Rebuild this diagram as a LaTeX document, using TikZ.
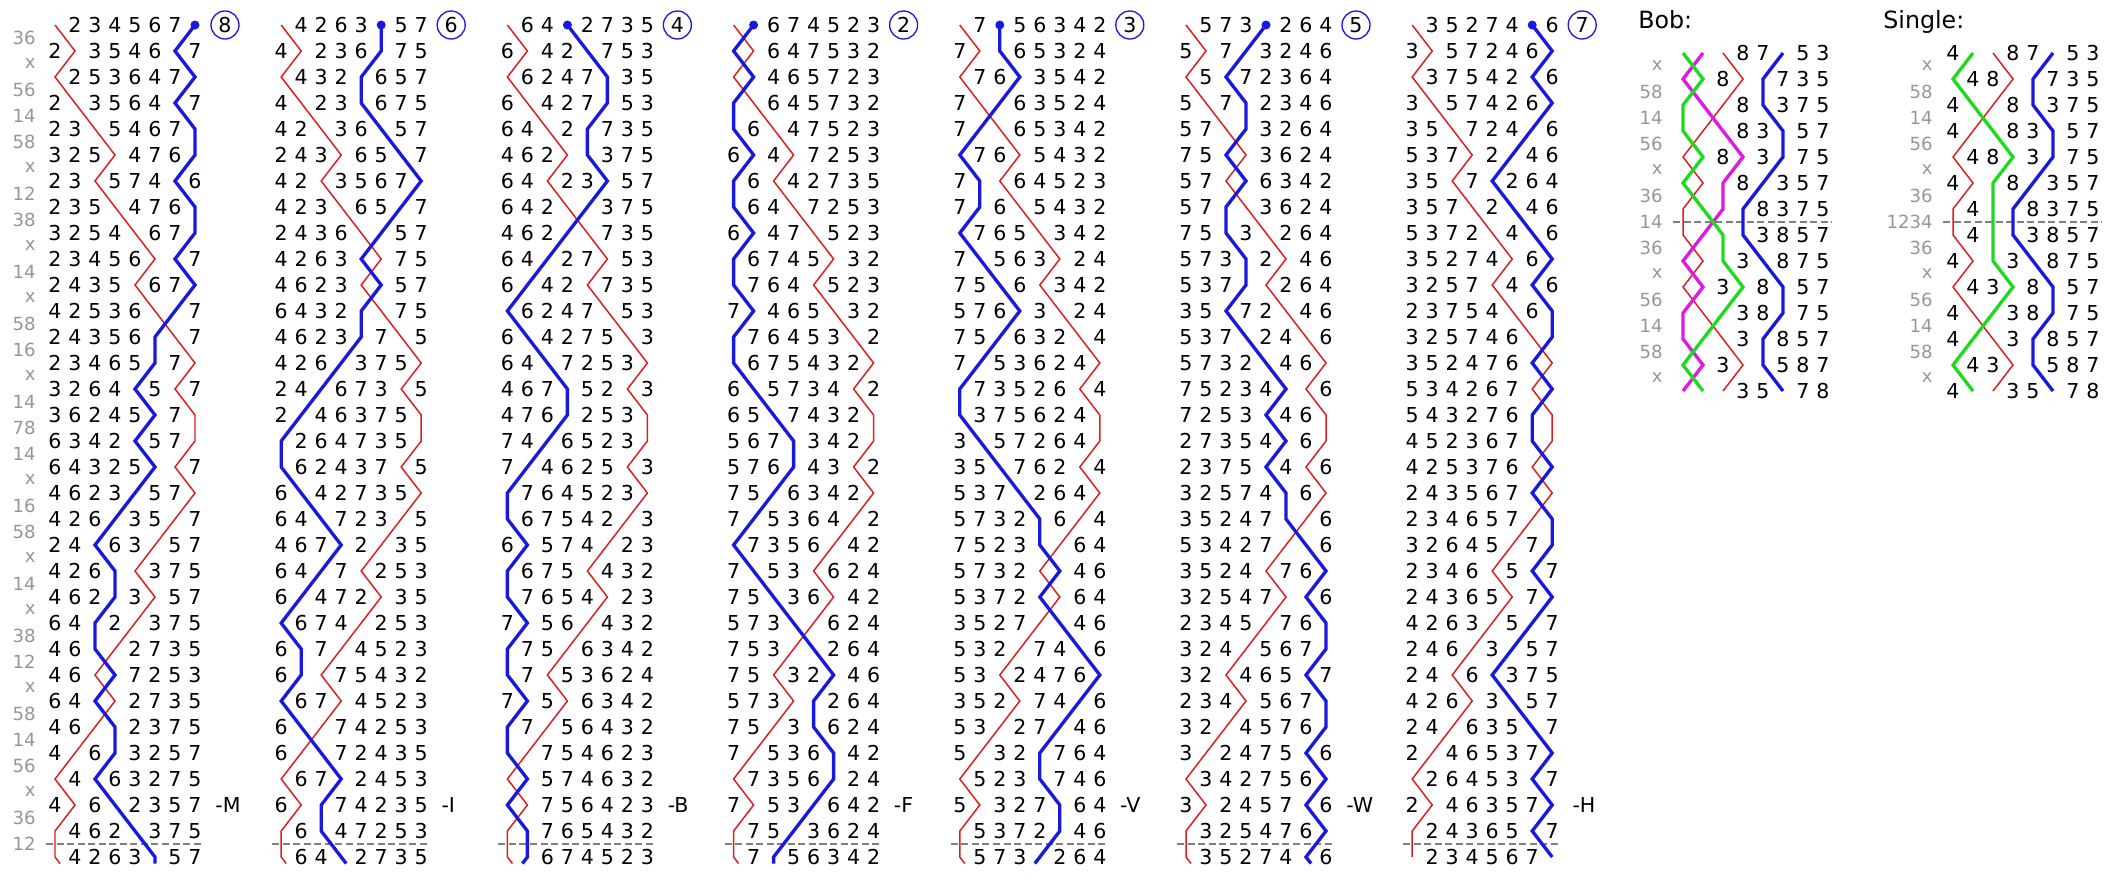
\documentclass[tikz,border=0pt]{standalone}
\usepackage{fontspec}
\setmainfont{DejaVu Sans}
\setsansfont{DejaVu Sans}
\usepackage{xcolor}
\usepackage{tikz}
\usetikzlibrary{calc}

\definecolor{trebred}{RGB}{222,30,30}
\definecolor{workblue}{RGB}{24,24,222}
\definecolor{bobgreen}{RGB}{30,218,30}
\definecolor{bobpink}{RGB}{222,26,222}
\definecolor{pngray}{RGB}{150,150,150}

% bell in place #9 of a row of eight
\def\bellat#1#2#3#4#5#6#7#8#9{\ifcase#9 \or#1\or#2\or#3\or#4\or#5\or#6\or#7\or#8\fi}
\def\pick#1{\expandafter\bellat\currow{#1}}
\def\permute#1#2#3#4#5#6#7#8{\xdef\currow{\pick#1\pick#2\pick#3\pick#4\pick#5\pick#6\pick#7\pick#8}}
\def\setpn#1#2{\expandafter\def\csname pn#1\endcsname{#2}}
\def\change#1{\edef\tmp{\csname pn#1\endcsname}\expandafter\permute\tmp}
\setpn{x}{21436587}
\setpn{12}{12436587}
\setpn{14}{13246587}
\setpn{16}{13254687}
\setpn{36}{21354687}
\setpn{38}{21354768}
\setpn{56}{21435687}
\setpn{58}{21435768}
\setpn{78}{21436578}
\setpn{1234}{12346587}

\begin{document}
\begin{tikzpicture}[x=0.02cm, y=-0.02cm, font=\sffamily,
    bell/.style={font=\fontsize{11.7}{14}\selectfont, inner sep=0pt},
    pn/.style={font=\fontsize{10.3}{12}\selectfont, text=pngray, anchor=east, inner sep=0pt},
    treble/.style={draw=trebred, line width=0.85pt},
    eighth/.style={draw=workblue, line width=1.9pt},
    greenline/.style={draw=bobgreen, line width=1.9pt},
    pinkline/.style={draw=bobpink, line width=1.9pt},
    leadend/.style={draw=gray, line width=0.6pt, dash pattern=on 4pt off 2pt},
    placebell/.style={draw=workblue, line width=0.75pt, circle, minimum size=0.56cm, inner sep=0pt, font=\fontsize{11.7}{14}\selectfont},
    title/.style={font=\fontsize{13.5}{16}\selectfont, anchor=base west, inner sep=0pt}]
  \useasboundingbox (0,0) rectangle (2114,880);
  \xdef\currow{12345678}
  \foreach \c/\call in {1/M,2/I,3/B,4/F,5/V,6/W,7/H} {
    \pgfmathsetmacro\xo{55+226.2*(\c-1)}
    \foreach \ch [count=\i] in {36,x,56,14,58,x,12,38,x,14,x,58,16,x,14,78,14,x,16,58,x,14,x,38,12,x,58,14,56,x,36,12,36,36} {
      \foreach \p in {1,...,8} {
        \edef\bl{\pick\p}
        \ifnum\bl=1 \coordinate (r\c-\i) at ({\xo+20*(\p-1)},{25+26*(\i-1)});
        \else\ifnum\bl=8 \coordinate (b\c-\i) at ({\xo+20*(\p-1)},{25+26*(\i-1)});
          \ifnum\i=1 \node[placebell] (start\c) at ({\xo+170},25) {\p}; \fi
        \else\ifnum\i<34 \node[bell] (d\c-\i-\p) at ({\xo+20*(\p-1)},{25+26*(\i-1)}) {\bl}; \fi
        \fi\fi
      }
      \change{\ch}
    }
    \ifnum\c<7
      \coordinate (rend\c) at ($(r\c-33)!0.25!(r\c-34)$);
      \coordinate (bend\c) at ($(b\c-33)!0.25!(b\c-34)$);
    \else
      \coordinate (rend\c) at (r\c-33);
      \coordinate (bend\c) at (b\c-33);
    \fi
    \draw[leadend] ({\xo-9},844) -- ({\xo+149},844);
    \draw[treble] (r\c-1) \foreach \i in {2,...,33} {-- (r\c-\i)} -- (rend\c);
    \draw[eighth] (b\c-1) \foreach \i in {2,...,33} {-- (b\c-\i)} -- (bend\c);
    \fill[workblue] (b\c-1) circle (0.09cm);
    \node[bell, anchor=west] (call\c) at ({\xo+160},805) {-\call};
  }
  \foreach \ch [count=\i] in {36,x,56,14,58,x,12,38,x,14,x,58,16,x,14,78,14,x,16,58,x,14,x,38,12,x,58,14,56,x,36,12}
    \node[pn] (pn\i) at (36,{38+26*(\i-1)}) {\ch};

  \node[title] (bobtitle) at (1638,28.5) {Bob:};
  \node[title] (singletitle) at (1883,28.5) {Single:};
  \foreach \pan/\xo/\startrow/\callpn/\linemask in {bob/1683/24187653/14/11010100,single/1953/42187653/1234/11000100} {
    \xdef\currow{\startrow}
    \foreach \ch [count=\i] in {x,58,14,56,x,36,\callpn,36,x,56,14,58,x,x} {
      \foreach \p in {1,...,8} {
        \edef\bl{\pick\p}
        \edef\kind{\expandafter\bellat\linemask{\bl}}
        \coordinate (\pan\bl-\i) at ({\xo+20*(\p-1)},{53+26*(\i-1)});
        \ifnum\kind=0 \node[bell] (\pan-\i-\p) at (\pan\bl-\i) {\bl}; \fi
      }
      \ifnum\i<14 \node[pn] (\pan pn\i) at ({\xo-20},{66+26*(\i-1)}) {\ch}; \fi
      \change{\ch}
    }
    \draw[leadend] ({\xo-10},222) -- ({\xo+149},222);
    \draw[treble] (\pan1-1) \foreach \i in {2,...,14} {-- (\pan1-\i)};
    \draw[eighth] (\pan6-1) \foreach \i in {2,...,14} {-- (\pan6-\i)};
  }
  \draw[pinkline] (bob4-1) \foreach \i in {2,...,14} {-- (bob4-\i)};
  \draw[greenline] (bob2-1) \foreach \i in {2,...,14} {-- (bob2-\i)};
  \draw[greenline] (single2-1) \foreach \i in {2,...,14} {-- (single2-\i)};
\end{tikzpicture}
\end{document}
